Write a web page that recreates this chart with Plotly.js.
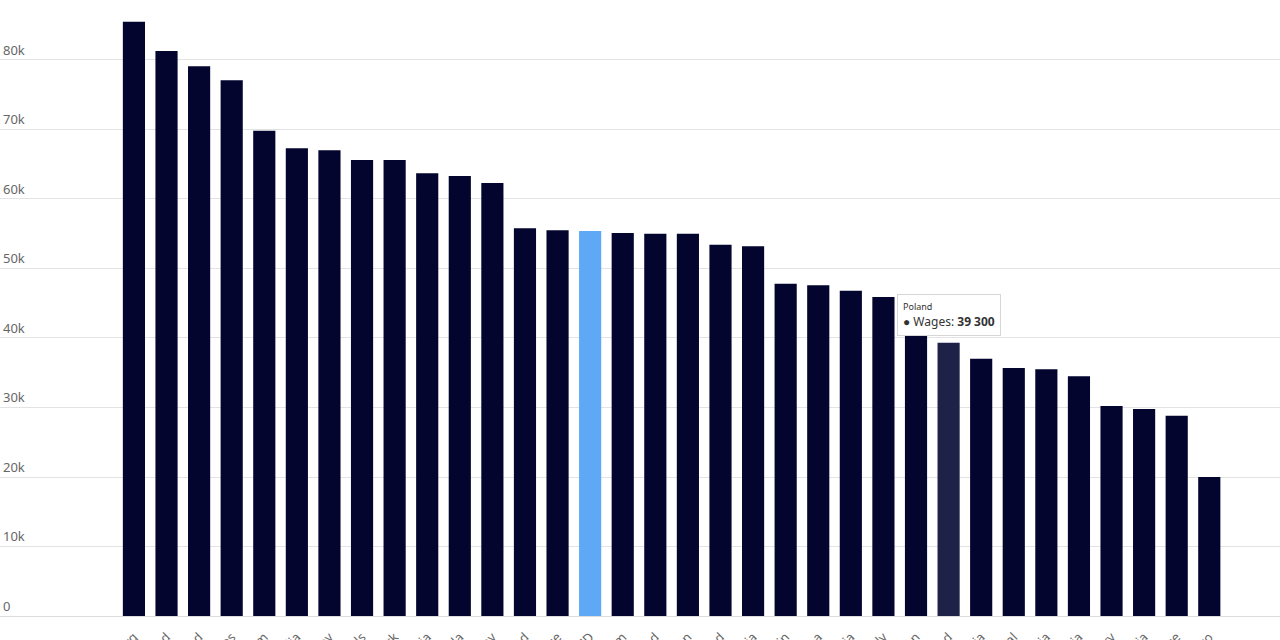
<!DOCTYPE html>
<html>
<head>
<meta charset="utf-8">
<script src="https://cdn.plot.ly/plotly-3.0.1.min.js"></script>
<style>
  html, body { margin: 0; padding: 0; background: #fff; }
  #chart { width: 1280px; height: 640px; }
</style>
</head>
<body>
<div id="chart"></div>
<script>
var countries = ['Luxembourg', 'Iceland', 'Switzerland', 'United States', 'Belgium', 'Australia',
  'Norway', 'Netherlands', 'Denmark', 'Austria', 'Canada', 'Germany', 'Ireland', 'France',
  'OECD', 'United Kingdom', 'Finland', 'Sweden', 'New Zealand', 'Slovenia', 'Spain', 'Korea',
  'Lithuania', 'Italy', 'Japan', 'Poland', 'Estonia', 'Portugal', 'Latvia', 'Czechia',
  'Hungary', 'Slovakia', 'Greece', 'Mexico'];

var wages = [85500, 81300, 79100, 77100, 69800, 67300, 67000, 65600, 65600, 63700, 63300, 62300,
  55800, 55500, 55400, 55100, 55000, 55000, 53400, 53200, 47800, 47600, 46800, 45900,
  41000, 39300, 37000, 35700, 35500, 34500, 30200, 29800, 28800, 20000];

var yTicks = [0, 10000, 20000, 30000, 40000, 50000, 60000, 70000, 80000];
var yTickText = ['0', '10k', '20k', '30k', '40k', '50k', '60k', '70k', '80k'];

var barColors = countries.map(function (c) {
  if (c === 'OECD') return '#5fa8f6';
  if (c === 'Poland') return '#1e2148';
  return '#03052e';
});

var trace = {
  x: countries,
  y: wages,
  type: 'bar',
  name: 'Wages',
  marker: { color: barColors },
  hoverinfo: 'none'
};

var layout = {
  width: 1280,
  height: 640,
  margin: { l: 0, r: 0, t: 0, b: 24 },
  paper_bgcolor: '#ffffff',
  plot_bgcolor: '#ffffff',
  font: { family: 'Noto Sans, Open Sans, sans-serif', color: '#666666' },
  showlegend: false,
  bargap: 0.32,
  xaxis: {
    type: 'category',
    range: [-4.11, 35.17],
    tickangle: -45,
    ticklabelstandoff: 10,
    tickfont: { size: 13, color: '#666666' },
    showgrid: false,
    zeroline: false,
    showline: false,
    ticks: '',
    automargin: false
  },
  yaxis: {
    range: [0, 88630],
    tickvals: yTicks,
    ticktext: yTickText,
    ticklabelposition: 'inside',
    ticklabelshift: -10,
    tickfont: { size: 13, color: '#666666' },
    gridcolor: '#e3e3e3',
    gridwidth: 1,
    zeroline: true,
    zerolinecolor: '#dcdcdc',
    zerolinewidth: 1,
    showline: false,
    automargin: false
  },
  annotations: [{
    x: 'Poland',
    y: 39300,
    xref: 'x',
    yref: 'y',
    yanchor: 'bottom',
    yshift: 7,
    showarrow: false,
    align: 'left',
    text: '<span style="font-size:9px;color:#333">Poland</span><br>' +
          '<span style="font-size:12px;color:#333">● Wages: <b>39 300</b></span>',
    bgcolor: '#ffffff',
    bordercolor: '#d6d6d6',
    borderwidth: 1,
    borderpad: 5,
    font: { family: 'Noto Sans, Open Sans, sans-serif', color: '#333333' }
  }]
};

Plotly.newPlot('chart', [trace], layout, { displayModeBar: false, staticPlot: true });
</script>
</body>
</html>
